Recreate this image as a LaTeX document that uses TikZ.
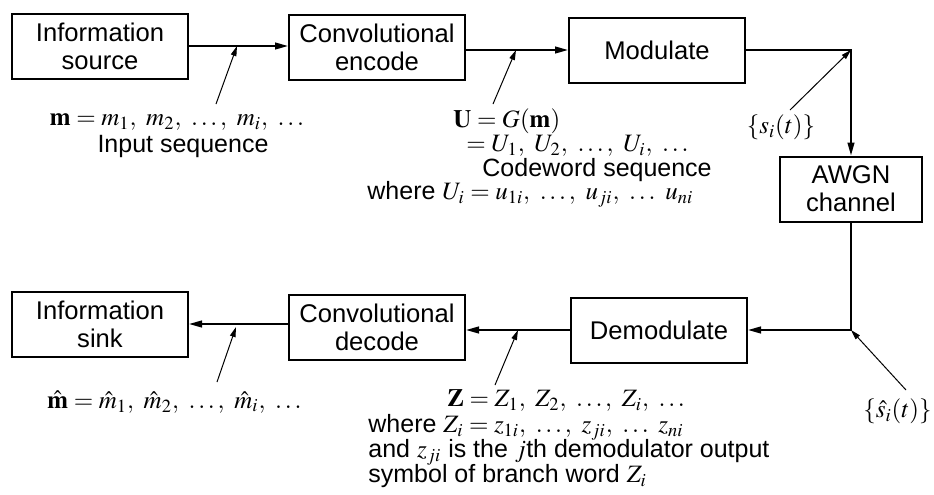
\documentclass[tikz,border=0pt]{standalone}
\usepackage{mathptmx}
\usepackage[no-math]{fontspec}
\setmainfont{Liberation Sans}
\usepackage{tikz}
\usetikzlibrary{arrows.meta, positioning, calc}

\begin{document}
\begin{tikzpicture}[x=0.5pt, y=-0.5pt,
    block/.style={draw, line width=1pt, align=center, inner sep=0pt,
      minimum width=88pt, minimum height=32.5pt,
      font=\fontsize{12.8}{14}\selectfont},
    flow/.style={line width=0.9pt, -{Triangle[length=6.5pt, width=3.4pt]}},
    pointer/.style={line width=0.5pt, -{Triangle[length=5pt, width=2.8pt]}},
    lab/.style={inner sep=0pt, font=\fontsize{12.5}{14}\selectfont}]
  \useasboundingbox (0,0) rectangle (934,494);

  % Top row
  \node[block] (src) at (100,46) {Information\\source};
  \node[block] (enc) at (377,47) {Convolutional\\encode};
  \node[block] (mod) at (657,50) {Modulate};
  \node[block, minimum width=71pt] (awgn) at (851,189) {AWGN\\channel};

  % Bottom row
  \node[block] (dem) at (659,330) {Demodulate};
  \node[block] (dec) at (377,327) {Convolutional\\decode};
  \node[block] (sink) at (100,324) {Information\\sink};

  % Signal path
  \draw[flow] (src.east) -- (src.east -| enc.west);
  \draw[flow] (enc.east |- mod.west) -- (mod.west);
  \draw[flow] (mod.east) -| (awgn.north);
  \draw[flow] (awgn.south) |- (dem.east);
  \draw[flow] (dem.west) -- (dem.west -| dec.east);
  \draw[flow] (dec.west |- sink.east) -- (sink.east);

  % Labels
  \node[lab] (mlab) at (177,122) {$\mathbf{m} = m_1,\ m_2,\ \ldots ,\ m_i,\ \ldots$};
  \node[lab] (inseq) at (183,146) {Input sequence};
  \node[lab, anchor=west] (ulab1) at (453,121) {$\mathbf{U} = G(\mathbf{m})$};
  \node[lab, anchor=west] (ulab2) at (466,146) {$= U_1,\ U_2,\ \ldots ,\ U_i,\ \ldots$};
  \node[lab, anchor=west] (ulab3) at (482,170) {Codeword sequence};
  \node[lab, anchor=west] (ulab4) at (367,194) {where $U_i = u_{1i},\ \ldots ,\ u_{ji},\ \ldots\ u_{ni}$};
  \node[lab] (slab) at (781,127) {$\{s_i(t)\}$};
  \node[lab, anchor=east] (shatlab) at (932,411) {$\{\hat{s}_i(t)\}$};
  \node[lab, anchor=west] (mhatlab) at (47,402) {$\hat{\mathbf{m}} = \hat{m}_1,\ \hat{m}_2,\ \ldots ,\ \hat{m}_i,\ \ldots$};
  \node[lab, anchor=west] (zlab1) at (447,401) {$\mathbf{Z} = Z_1,\ Z_2,\ \ldots ,\ Z_i,\ \ldots$};
  \node[lab, anchor=west] (zlab2) at (368,427) {where $Z_i = z_{1i},\ \ldots ,\ z_{ji},\ \ldots\ z_{ni}$};
  \node[lab, anchor=west] (zlab3) at (368,452) {and $z_{ji}$ is the $j$th demodulator output};
  \node[lab, anchor=west] (zlab4) at (368,476) {symbol of branch word $Z_i$};

  % Pointers onto the path
  \coordinate (p1) at (237,46);   \coordinate (t1) at (216,104);
  \coordinate (p2) at (516,50);   \coordinate (t2) at (493,104);
  \coordinate (p3) at (851,50);   \coordinate (t3) at (790,110);
  \coordinate (p4) at (236,327);  \coordinate (t4) at (217,382);
  \coordinate (p5) at (518,330);  \coordinate (t5) at (495,385);
  \coordinate (p6) at (851,330);  \coordinate (t6) at (906,390);
  \foreach \i in {1,...,6}
    \draw[pointer] (t\i) -- (p\i);
\end{tikzpicture}
\end{document}
